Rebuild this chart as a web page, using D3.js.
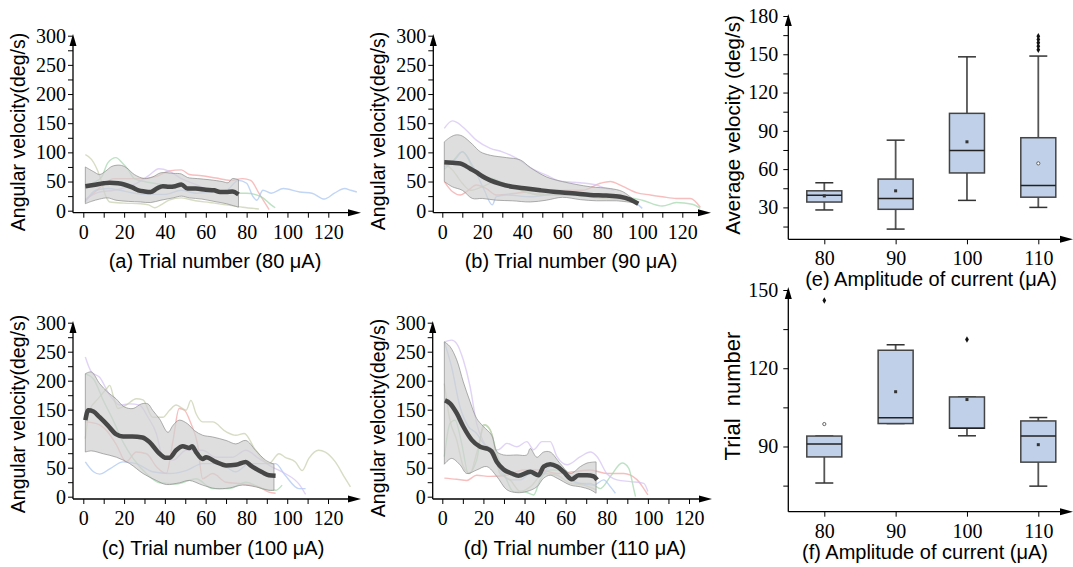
<!DOCTYPE html>
<html>
<head>
<meta charset="utf-8">
<script src="https://cdn.jsdelivr.net/npm/d3@7"></script>
<style>
body { margin: 0; background: #fff; }
.tick text { font-family: 'Liberation Serif', 'Times New Roman', serif; }
</style>
</head>
<body>
<svg id="fig" width="1073" height="567"></svg>
<script>
"use strict";
/*global d3*/

// ---- tick values ----
var TRIAL_X_TICKS = [0, 10, 20, 30, 40, 50, 60, 70, 80, 90, 100, 110, 120],
    VEL_Y_TICKS = [0, 25, 50, 75, 100, 125, 150, 175, 200, 225, 250, 275, 300],
    AVG_Y_TICKS = [15, 30, 45, 60, 75, 90, 105, 120, 135, 150, 165, 180],
    NUM_Y_TICKS = [75, 90, 105, 120, 135, 150],
    CURRENTS = ["80", "90", "100", "110"];

// ---- (a) 80 uA: [trial, deg/s] ----
var mean80 = [[1, 42], [5, 44], [10, 47], [13, 48], [17, 47], [20, 45], [24, 40], [27, 35], [30, 33], [33, 32], [36, 38], [39, 42], [42, 41], [45, 42], [48, 45], [51, 38], [55, 38], [60, 36], [64, 35], [67, 32], [70, 32], [73, 33], [76, 28]],
    upper80 = [[1, 75], [5, 67], [8, 62], [11, 68], [14, 76], [18, 78], [21, 74], [25, 62], [30, 55], [34, 58], [38, 65], [44, 64], [48, 63], [51, 57], [56, 55], [62, 53], [68, 50], [71, 48], [73, 55], [76, 53]],
    lower80 = [[1, 12], [4, 16], [8, 20], [12, 22], [16, 18], [22, 16], [28, 15], [33, 14], [38, 18], [44, 22], [48, 25], [52, 22], [58, 20], [64, 16], [70, 12], [76, 6]],
    trials80 = [
        [[1, 18], [5, 30], [10, 45], [15, 55], [20, 55], [28, 55], [35, 58], [42, 68], [48, 70], [52, 62], [58, 60], [65, 56], [72, 52], [78, 55], [82, 52], [86, 30], [91, 2]],
        [[1, 42], [5, 48], [9, 58], [12, 82], [16, 91], [19, 82], [22, 70], [25, 55], [30, 50], [38, 45], [45, 42], [52, 40], [60, 35], [68, 32], [75, 30], [80, 30], [84, 28], [88, 22], [92, 10], [94, 5]],
        [[1, 15], [6, 35], [12, 38], [18, 35], [25, 30], [32, 28], [40, 28], [48, 35], [55, 30], [62, 32], [70, 35], [76, 52], [80, 47], [83, 25], [85, 18], [88, 35], [92, 30], [98, 38], [106, 32], [112, 30], [118, 20], [123, 30], [128, 38], [131, 35], [134, 32]],
        [[1, 20], [8, 32], [15, 35], [25, 45], [32, 60], [37, 72], [42, 68], [48, 55], [55, 45], [62, 35], [68, 30], [74, 32], [76, 25]],
        [[1, 96], [4, 88], [8, 60], [11, 25], [13, 15], [20, 13], [28, 12], [32, 10], [35, 5], [38, 10], [42, 18], [48, 22], [55, 17], [62, 14], [70, 10], [78, 6], [86, 3]]
    ];

// ---- (b) 90 uA ----
var mean90 = [[1, 83], [5, 82], [9, 81], [12, 76], [14, 72], [17, 66], [20, 59], [24, 52], [29, 46], [35, 41], [42, 38], [49, 35], [57, 32], [65, 30], [74, 27], [82, 26], [89, 24], [94, 19], [98, 12]],
    upper90 = [[1, 118], [4, 126], [7, 130], [10, 128], [15, 114], [19, 101], [24, 95], [32, 91], [39, 87], [44, 74], [52, 58], [60, 50], [74, 41], [84, 38], [90, 33], [95, 21]],
    lower90 = [[1, 50], [5, 41], [10, 35], [15, 21], [20, 21], [27, 18], [35, 17], [44, 15], [52, 18], [60, 23], [69, 19], [77, 17], [87, 17], [95, 14]],
    trials90 = [
        [[1, 50], [5, 33], [9, 27], [13, 35], [17, 44], [22, 38], [27, 27], [37, 30], [47, 34], [60, 35], [70, 35], [79, 47], [84, 50], [90, 42], [97, 31], [104, 27], [110, 24], [117, 21], [124, 21], [129, 6]],
        [[1, 71], [5, 84], [10, 101], [12, 95], [15, 75], [20, 61], [27, 53], [35, 41], [44, 30], [60, 27], [77, 25], [90, 24], [100, 18], [110, 8], [117, 14], [125, 11], [129, 4]],
        [[1, 75], [7, 90], [10, 101], [15, 78], [21, 35], [25, 10], [27, 24], [32, 27], [44, 24], [60, 30], [77, 24], [94, 21], [98, 10], [100, 4]],
        [[1, 141], [5, 154], [7, 152], [12, 138], [17, 121], [24, 107], [30, 101], [37, 90], [44, 74], [52, 61], [60, 50], [69, 48], [77, 44], [82, 38], [86, 35]],
        [[1, 81], [5, 70], [10, 47], [14, 35], [20, 41], [27, 50], [37, 38], [49, 27], [64, 27], [80, 21], [95, 19]]
    ];

// ---- (c) 100 uA ----
var mean100 = [[1, 132], [2.4, 149], [5, 147], [8, 137], [12, 123], [16, 108], [19.5, 104], [24, 104], [29, 102], [32.5, 94], [36.6, 77], [40.7, 67], [42.3, 67], [45.5, 80], [48.8, 87], [52, 84], [53.3, 87], [55.3, 77], [58.5, 65], [60.2, 68], [65, 60], [70, 54], [74.8, 55], [79.7, 60], [82, 54], [87.8, 42], [91, 37], [94.3, 36]],
    upper100 = [[1, 212], [4, 215], [8, 195], [12, 180], [16, 169], [20, 155], [24.4, 152], [28.5, 160], [31.7, 160], [34, 149], [37.4, 134], [41.5, 111], [44, 123], [47, 132], [51, 126], [54.5, 114], [58.5, 106], [63.4, 103], [70, 97], [74.8, 91], [79.7, 97], [84.5, 80], [89.4, 63], [93.5, 56]],
    lower100 = [[1, 77], [4, 79], [9.8, 74], [16.3, 68], [22.8, 57], [29.3, 40], [35.8, 28], [40.7, 21], [47.2, 24], [52, 28], [58.5, 20], [65, 14], [71.5, 15], [78, 20], [84.5, 17], [91, 11], [93.5, 11]],
    trials100 = [
        [[1, 129], [6.5, 126], [11.4, 114], [16.3, 89], [21, 60], [26, 77], [31, 74], [36, 51], [40.7, 40], [44, 97], [47, 152], [49.6, 149], [52.8, 126], [56, 91], [58.5, 31], [63.4, 40], [70, 25], [78, 22], [86, 17], [91, 8], [94.3, 6]],
        [[1, 212], [5, 203], [9.8, 166], [14.6, 132], [19.5, 94], [24.4, 66], [30.9, 40], [37.4, 24], [45.5, 22], [55.3, 31], [63.4, 14], [71.5, 14], [79.7, 25], [87.8, 14], [94.3, 11], [97.5, 20]],
        [[1, 60], [5, 43], [8, 39], [13, 48], [19.5, 60], [26, 57], [34, 43], [42.3, 40], [50.4, 45], [58.5, 57], [66.7, 57], [74.8, 43], [81.3, 57], [87.8, 57], [94.3, 57], [99, 37], [105.7, 14], [109, 14]],
        [[1, 241], [4, 215], [8, 206], [13, 175], [17.9, 158], [22.8, 160], [27.6, 158], [31.7, 137], [35.8, 109], [39, 68], [44, 63], [50.4, 80], [58.5, 80], [65, 68], [73, 68], [79.7, 80], [86, 66], [92.7, 51], [99, 40], [105.7, 22], [109, 4]],
        [[1, 100], [3, 149], [7.3, 169], [11.4, 186], [13, 192], [14.6, 175], [17, 152], [21, 158], [26, 169], [29.3, 167], [34, 137], [39, 137], [42.3, 149], [45.5, 158], [50.4, 149], [52.8, 166], [55.3, 143], [58.5, 129], [63.4, 129], [70, 112], [74.8, 106], [78.9, 109], [84.5, 80], [91, 57], [96, 74], [99, 68], [104, 60], [107.3, 45], [110.6, 66], [115.4, 80], [118.7, 77], [123.6, 60], [128.5, 31], [131, 17]]
    ];

// ---- (d) 110 uA ----
var mean110 = [[1.3, 166], [3.7, 161], [7, 144], [10.2, 121], [14.3, 98], [18.4, 86], [22.4, 82], [24, 78], [26.5, 60], [29.8, 47], [33.8, 40], [37, 36], [42.8, 43], [46.8, 37], [49.3, 52], [52.5, 56], [55.8, 52], [59, 43], [63, 30], [66.3, 37], [70.4, 37], [73.7, 35], [75.3, 29]],
    upper110 = [[1, 267], [3.7, 259], [7, 236], [10.2, 198], [13.5, 164], [16.7, 135], [20, 121], [24, 106], [26.5, 78], [29.8, 72], [36.3, 72], [41.1, 72], [42.8, 83], [46, 68], [49.3, 77], [52.5, 77], [57.4, 57], [62.3, 40], [67.2, 52], [70.4, 58], [74.8, 60]],
    lower110 = [[1, 56], [4.5, 66], [8.6, 55], [11.9, 40], [16.7, 46], [21.6, 52], [26.5, 35], [31.4, 12], [36.3, 7], [41.1, 9], [46, 17], [49.3, 32], [52.5, 37], [55.8, 32], [62.3, 20], [67.2, 17], [72, 12], [74.8, 6]],
    trials110 = [
        [[1, 32], [7, 30], [11.9, 28], [16.7, 37], [23.3, 35], [31.4, 37], [39.5, 46], [47.6, 46], [55.8, 40], [63.9, 43], [72, 46], [80, 40], [88.3, 40], [94.8, 29], [98, 14], [100, 3]],
        [[1, 69], [3.7, 126], [6.2, 132], [9.4, 92], [12.7, 40], [16.7, 63], [20, 124], [23.3, 115], [26.5, 75], [30.6, 35], [34.6, 9], [39.5, 9], [44.4, 3], [47.6, 29], [52.5, 46], [59, 46], [65.5, 23], [72, 23], [76.9, 14], [81.8, 35], [87.5, 58], [90.7, 49], [93.2, 12], [94, 0]],
        [[1, 267], [4.5, 224], [8.6, 155], [12.7, 121], [16.7, 109], [20, 92], [24, 81], [28, 46], [33, 29], [37.9, 29], [42.8, 40], [47.6, 35], [52.5, 52], [57.4, 49], [62.3, 29], [67.2, 23], [73.7, 20], [78.5, 29], [81.8, 17], [84.2, 6]],
        [[1, 267], [4.5, 270], [7, 264], [10.2, 236], [13.5, 190], [16.7, 126], [20, 95], [23.3, 81], [27.3, 81], [31.4, 92], [36.3, 86], [41.1, 95], [44.4, 81], [48.5, 95], [52.5, 95], [55.8, 69], [60.7, 55], [67.2, 69], [72, 77], [75.3, 69], [80, 40], [85, 29], [91.5, 26], [98, 23], [100, 9]],
        [[1, 195], [3.7, 132], [7, 98], [10.2, 52], [13.5, 40], [16.7, 75], [20.8, 124], [24, 109], [28, 40], [33, 29], [37.9, 9], [42.8, 17], [49.3, 40], [55.8, 37], [62.3, 23], [68.8, 20], [74.8, 12]]
    ];

// ---- (e) average velocity per current ----
var velLoWhisker = [28, 13, 35.5, 30],
    velQ1 = [34.2, 28.5, 57, 38],
    velMedian = [39.6, 37, 74.5, 47.2],
    velQ3 = [43, 52.2, 103.7, 84.6],
    velHiWhisker = [49.3, 82.7, 148, 148.6],
    velMean = [39, 43, 81.4, 64.5],
    velOutliers = [["110", 153.5], ["110", 156.3], ["110", 159], ["110", 161.6], ["110", 164.2]];

// ---- (f) trial number per current ----
var numLoWhisker = [76, 98.8, 94.1, 74.8],
    numQ1 = [86, 98.8, 97, 84],
    numMedian = [91, 101, 97, 94],
    numQ3 = [94, 126.9, 109, 99.8],
    numHiWhisker = [94, 129, 109, 101.1],
    numMean = [98.6, 111, 108, 90.7],
    numOutliers = [["80", 146], ["100", 131]];

var TRACE_COLORS = ["#f3a3a3", "#9fd6aa", "#a7c3f1", "#d3c0f1", "#c6cdab"],
    SERIF = "'Liberation Serif', 'Times New Roman', serif",
    SANS = "'Liberation Sans', Arial, sans-serif",
    TICK_PX = 20;

var svg = d3.select("#fig");

function arrowUp(g, x, y) {
    g.append("path")
        .attr("d", "M" + (x - 3.5) + "," + (y + 12) + "L" + x + "," + y + "L" + (x + 3.5) + "," + (y + 12) + "Z")
        .attr("fill", "#000");
}

function arrowRight(g, x, y) {
    g.append("path")
        .attr("d", "M" + (x - 13) + "," + (y - 3.5) + "L" + x + "," + y + "L" + (x - 13) + "," + (y + 3.5) + "Z")
        .attr("fill", "#000");
}

function frame(g, cfg) {
    g.append("line")
        .attr("x1", cfg.axisX).attr("y1", cfg.axisY)
        .attr("x2", cfg.axisX).attr("y2", cfg.arrowTop + 6)
        .attr("stroke", "#000").attr("stroke-width", 1.3);
    g.append("line")
        .attr("x1", cfg.axisX).attr("y1", cfg.axisY)
        .attr("x2", cfg.axisRight - 6).attr("y2", cfg.axisY)
        .attr("stroke", "#000").attr("stroke-width", 1.3);
    arrowUp(g, cfg.axisX, cfg.arrowTop);
    arrowRight(g, cfg.axisRight, cfg.axisY);
}

function styleAxis(sel) {
    sel.attr("font-family", SERIF).attr("font-size", TICK_PX);
    sel.select(".domain").remove();
    sel.selectAll(".tick line").attr("stroke", "#000").attr("stroke-width", 1);
    sel.selectAll(".tick text")
        .attr("fill", "#000")
        .attr("font-family", SERIF)
        .attr("font-size", TICK_PX);
}

function titles(g, cfg) {
    g.append("text")
        .attr("transform", "translate(" + cfg.titleX + "," + cfg.titleY + ") rotate(-90)")
        .attr("text-anchor", "middle")
        .style("font-family", SANS)
        .style("font-size", cfg.titleSize + "px")
        .style("white-space", "pre")
        .text(cfg.title);
    g.append("text")
        .attr("x", cfg.captionX).attr("y", cfg.captionY)
        .attr("text-anchor", "middle")
        .style("font-family", SANS)
        .style("font-size", "20px")
        .text(cfg.caption);
}

function drawTrialPanel(cfg, mean, upper, lower, trials) {
    var g = svg.append("g"),
        x = d3.scaleLinear().domain([0, 120]).range([cfg.x0, cfg.x120]),
        y = d3.scaleLinear().domain([0, 300]).range([cfg.zeroY, cfg.topY]),
        trace = d3.line()
            .x(function (d) { return x(d[0]); })
            .y(function (d) { return y(d[1]); })
            .curve(d3.curveMonotoneX),
        edge = d3.line()
            .x(function (d) { return x(d[0]); })
            .y(function (d) { return y(d[1]); })
            .curve(d3.curveCatmullRom.alpha(0.5)),
        band,
        ax;

    trials.forEach(function (pts, i) {
        g.append("path")
            .attr("d", trace(pts))
            .attr("fill", "none")
            .attr("stroke", TRACE_COLORS[i])
            .attr("stroke-width", 1.4)
            .attr("stroke-opacity", 0.7);
    });

    band = edge(upper) + "L" + edge(lower.slice().reverse()).slice(1) + "Z";
    g.append("path")
        .attr("d", band)
        .attr("fill", "#d0d0d0")
        .attr("fill-opacity", 0.7)
        .attr("stroke", "#8c8c8c")
        .attr("stroke-width", 0.7);

    g.append("path")
        .attr("d", trace(mean))
        .attr("fill", "none")
        .attr("stroke", "#474747")
        .attr("stroke-width", 4.5)
        .attr("stroke-linejoin", "round");

    ax = g.append("g")
        .attr("transform", "translate(" + cfg.axisX + ",0)")
        .call(d3.axisLeft(y).tickValues(VEL_Y_TICKS).tickSize(5).tickPadding(2)
            .tickFormat(function (v) { return v % 50 === 0 ? v : ""; }));
    styleAxis(ax);

    ax = g.append("g")
        .attr("transform", "translate(0," + cfg.axisY + ")")
        .call(d3.axisBottom(x).tickValues(TRIAL_X_TICKS).tickSize(5).tickPadding(7)
            .tickFormat(function (v) { return v % 20 === 0 ? v : ""; }));
    styleAxis(ax);

    frame(g, cfg);
    titles(g, cfg);
}

function drawBoxPanel(cfg, lo, q1, med, q3, hi, mean, outliers) {
    var g = svg.append("g"),
        x = d3.scalePoint().domain(CURRENTS).range([cfg.x80, cfg.x110]),
        y = d3.scaleLinear().domain(cfg.yDomain).range([cfg.axisY, cfg.yTop]),
        half = 17.5,
        cap = 9,
        ax;

    ax = g.append("g")
        .attr("transform", "translate(" + cfg.axisX + ",0)")
        .call(d3.axisLeft(y).tickValues(cfg.yTicks).tickSize(5).tickPadding(5)
            .tickFormat(function (v) { return v % 30 === 0 ? v : ""; }));
    styleAxis(ax);

    ax = g.append("g")
        .attr("transform", "translate(0," + cfg.axisY + ")")
        .call(d3.axisBottom(x).tickSize(5).tickPadding(7));
    styleAxis(ax);

    CURRENTS.forEach(function (c, i) {
        var cx = x(c);
        g.append("line")
            .attr("x1", cx).attr("x2", cx)
            .attr("y1", y(q3[i])).attr("y2", y(hi[i]))
            .attr("stroke", "#555").attr("stroke-width", 1.8);
        g.append("line")
            .attr("x1", cx).attr("x2", cx)
            .attr("y1", y(q1[i])).attr("y2", y(lo[i]))
            .attr("stroke", "#555").attr("stroke-width", 1.8);
        g.append("line")
            .attr("x1", cx - cap).attr("x2", cx + cap)
            .attr("y1", y(hi[i])).attr("y2", y(hi[i]))
            .attr("stroke", "#333").attr("stroke-width", 1.5);
        g.append("line")
            .attr("x1", cx - cap).attr("x2", cx + cap)
            .attr("y1", y(lo[i])).attr("y2", y(lo[i]))
            .attr("stroke", "#333").attr("stroke-width", 1.5);
        g.append("rect")
            .attr("x", cx - half).attr("width", half * 2)
            .attr("y", y(q3[i])).attr("height", y(q1[i]) - y(q3[i]))
            .attr("fill", "#bfd0e8")
            .attr("stroke", "#444").attr("stroke-width", 1.5);
        g.append("line")
            .attr("x1", cx - half).attr("x2", cx + half)
            .attr("y1", y(med[i])).attr("y2", y(med[i]))
            .attr("stroke", "#222").attr("stroke-width", 1.5);
        if (cfg.hollowMean[i]) {
            g.append("circle")
                .attr("cx", cx).attr("cy", y(mean[i])).attr("r", 1.6)
                .attr("fill", "#fff").attr("stroke", "#444").attr("stroke-width", 0.8);
        } else {
            g.append("rect")
                .attr("x", cx - 1.5).attr("y", y(mean[i]) - 1.5)
                .attr("width", 3).attr("height", 3)
                .attr("fill", "#333");
        }
    });

    outliers.forEach(function (o) {
        g.append("path")
            .attr("d", d3.symbol(d3.symbolDiamond, 12)())
            .attr("transform", "translate(" + x(o[0]) + "," + y(o[1]) + ")")
            .attr("fill", "#111");
    });

    frame(g, cfg);
    titles(g, cfg);
}

var TITLE_VEL = "Angular velocity(deg/s)";

drawTrialPanel({
    axisX: 73, x0: 83.3, x120: 328.3, axisRight: 361, axisY: 212.7, arrowTop: 34,
    zeroY: 210.7, topY: 35.7,
    title: TITLE_VEL, titleSize: 19.5, titleX: 25, titleY: 132,
    caption: "(a) Trial number (80 \u03bcA)", captionX: 215, captionY: 268
}, mean80, upper80, lower80, trials80);

drawTrialPanel({
    axisX: 433.3, x0: 442.3, x120: 682.3, axisRight: 711, axisY: 212.7, arrowTop: 34,
    zeroY: 210.7, topY: 35.7,
    title: TITLE_VEL, titleSize: 19.5, titleX: 385, titleY: 131,
    caption: "(b) Trial number (90 \u03bcA)", captionX: 571, captionY: 268
}, mean90, upper90, lower90, trials90);

drawTrialPanel({
    axisX: 73, x0: 83.3, x120: 328, axisRight: 361, axisY: 499, arrowTop: 321,
    zeroY: 496.7, topY: 322.7,
    title: TITLE_VEL, titleSize: 19.5, titleX: 25, titleY: 414,
    caption: "(c) Trial number (100 \u03bcA)", captionX: 213, captionY: 555
}, mean100, upper100, lower100, trials100);

drawTrialPanel({
    axisX: 432.7, x0: 442.3, x120: 689, axisRight: 712, axisY: 499, arrowTop: 321,
    zeroY: 496.7, topY: 322.7,
    title: TITLE_VEL, titleSize: 19.5, titleX: 385, titleY: 418,
    caption: "(d) Trial number (110 \u03bcA)", captionX: 575, captionY: 555
}, mean110, upper110, lower110, trials110);

drawBoxPanel({
    axisX: 788.3, x80: 824.3, x110: 1038.3, axisRight: 1073, axisY: 239.3, arrowTop: 14,
    yDomain: [5, 180], yTop: 16, yTicks: AVG_Y_TICKS,
    hollowMean: [false, false, false, true],
    title: "Average velocity (deg/s)", titleSize: 20.5, titleX: 740, titleY: 125,
    caption: "(e) Amplitude of current (\u03bcA)", captionX: 931, captionY: 286
}, velLoWhisker, velQ1, velMedian, velQ3, velHiWhisker, velMean, velOutliers);

drawBoxPanel({
    axisX: 788.3, x80: 824.3, x110: 1038.3, axisRight: 1073, axisY: 511.7, arrowTop: 287,
    yDomain: [65, 150], yTop: 290, yTicks: NUM_Y_TICKS,
    hollowMean: [true, false, false, false],
    title: "Trial  number", titleSize: 22, titleX: 740, titleY: 396,
    caption: "(f) Amplitude of current (\u03bcA)", captionX: 925, captionY: 559
}, numLoWhisker, numQ1, numMedian, numQ3, numHiWhisker, numMean, numOutliers);
</script>
</body>
</html>
